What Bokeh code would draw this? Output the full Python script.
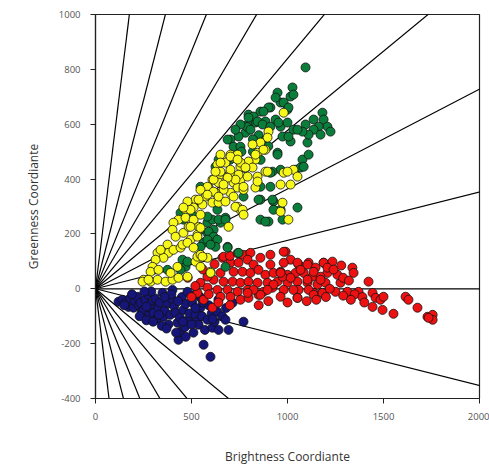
import math
from bokeh.plotting import figure
from bokeh.models import Range1d, ColumnDataSource
from bokeh.embed import file_html
from bokeh.resources import INLINE

# ---- data ----
ray_angles = [80, 70, 60, 50, 40, 30, 20, 10, 0, -10, -30, -40, -50, -60, -70, -80]

x_ticks = [0, 500, 1000, 1500, 2000]
y_ticks = [-400, -200, 0, 200, 400, 600, 800, 1000]

navy_pts = [
    (120,-47),(140,-40),(156,-51),(172,-66),(180,-35),(198,-69),(205,-45),(219,-29),(225,-60),(234,-51),
    (240,-85),(250,-77),(260,-40),(276,-22),(280,-95),(287,-58),(295,-75),(302,-88),(310,-35),(320,-110),
    (328,-69),(335,-50),(349,-15),(354,-102),(360,-80),(375,-51),(380,-130),(390,-95),(401,-4),(401,-40),
    (410,-65),(417,-88),(427,-124),(432,-186),(440,-105),(443,-157),(450,-30),(458,-77),(465,-140),(470,-55),
    (479,-11),(485,-113),(490,-90),(505,-51),(510,-160),(521,-95),(530,-120),(537,-131),(545,-30),(547,-69),
    (555,-100),(563,-204),(570,-150),(583,-113),(590,-60),(599,-248),(605,-90),(609,-142),(620,-120),(635,-84),
    (641,-150),(660,-100),(677,-113),(693,-150),(714,-51),(771,-120),(230,-100),(265,-115),(300,-120),(345,-135),
    (370,-145),(420,-160),(470,-175),(500,-130),(395,-20),(430,-45),(520,-20),(560,-50),(360,-30),(290,-10),
    (255,-10),(190,-20),(640,-40),(680,-70),(330,-95),(455,-120),(520,-70),(610,-110),(150,-60),(265,-65),
]

red_pts = [
    (661,113),(766,124),(807,131),(859,113),(911,88),(990,135),(1016,106),(1058,88),(1110,95),(1146,77),
    (1188,95),(1208,58),(703,95),(745,95),(792,106),(823,88),(719,62),(766,62),(807,58),(849,69),
    (885,51),(927,58),(964,62),(1000,51),(1042,58),(1084,58),(1130,44),(1172,44),(651,58),(615,33),
    (667,26),(714,26),(755,22),(797,26),(844,22),(896,22),(948,26),(1000,22),(1052,26),(1104,22),
    (1156,15),(1198,22),(547,22),(583,4),(635,-4),(688,-4),(740,-11),(792,-4),(875,-11),(922,4),
    (980,-4),(1058,-4),(1136,-15),(1182,-15),(531,-15),(563,-40),(609,-69),(651,-29),(703,-29),(755,-40),
    (797,-33),(849,-22),(964,-29),(1052,-33),(583,44),(667,117),(911,124),(974,44),
    (980,135),(1052,95),(1104,88),(1188,95),(1234,99),(1338,77),(1344,58),(1422,26),(1312,-11),(1370,-11),
    (1443,-15),(1459,-33),(1484,-40),(1500,-29),(1443,-66),(1495,-77),(1552,-91),(1615,-29),(1630,-40),(1677,-69),
    (1729,-102),(1756,-95),(1756,-113),(1735,-106),
    (1031,-4),(1052,-33),(1110,-4),(1136,-22),(1182,-15),(1250,-11),(1276,22),(1260,51),(1172,33),(1104,33),
    (1016,40),(964,58),(927,15),(896,-4),(859,-22),(823,-4),(792,-15),(980,95),(1068,69),(1136,62),(1208,77),
    (1290,40),(1320,30),(1240,70),(1280,85),(1220,0),(1350,-20),(1390,-30),(1400,-50),(1330,-40),(1290,-25),
    (1200,-30),(1150,-40),(1100,-45),(1000,-50),(900,-45),(850,-60),(700,-60),(640,-50),(590,-20),(520,10),
    (480,40),(500,-30),(560,70),(620,90),(700,120),(740,130),
]

green_pts = [
    (797,635),(859,646),(911,661),(964,679),(1000,653),(885,610),(833,606),(792,599),(781,569),(745,555),
    (703,544),(719,518),(755,518),(938,617),(964,591),(1000,606),(1031,580),(974,555),(1016,537),(948,496),
    (1104,533),(1078,471),(1042,434),(964,434),(922,427),(911,372),(859,325),(927,318),(964,288),(1052,296),
    (859,252),(901,245),(677,259),(651,241),(615,215),(583,204),(609,179),(563,168),(688,153),(635,288),
    (641,471),(625,445),(511,263),
    (1094,807),(1026,734),(1016,701),(1031,708),(948,715),(938,697),(980,679),(1005,661),(901,661),(875,646),
    (823,628),(844,610),(790,590),(807,580),(755,599),(729,580),(870,599),(911,591),(953,606),(1136,617),
    (1182,642),(1188,617),(1208,591),(1162,591),(1136,580),(1094,599),(1110,562),(1172,562),(1224,573),(1078,573),
    (1052,580),(1005,555),(948,489),(1110,489),(1068,442),(1084,445),(911,423),(859,372),(849,325),(922,325),
    (927,288),(885,245),(974,252),(771,336),
    (443,277),(458,252),(583,241),(609,252),(641,252),(589,208),(615,190),(583,179),(635,179),(625,153),
    (599,161),(677,252),(688,150),(453,106),(469,80),(375,69),(443,69),(677,80),
    (479,99),(547,153),(745,131),(688,544),(797,624),(547,372),(583,263),
    (850,560),(880,540),(820,545),(900,520),(700,470),(760,500),(820,500),(860,470),(780,440),
]

yellow_pts = [
    (651,416),(609,398),(641,387),(688,409),(719,387),(703,423),(755,398),(740,369),(771,361),(703,350),
    (667,361),(625,350),(589,369),(573,336),(609,314),(641,314),(557,307),(521,325),(511,296),(479,318),
    (469,288),(432,252),(406,241),(401,215),(417,190),(458,204),(485,226),(495,179),(537,226),(531,197),
    (740,299),(755,288),(693,226),(375,161),(349,135),(323,131),(380,131),(406,142),(443,150),(354,113),
    (313,106),(297,80),(287,62),(328,69),(250,33),(287,26),(323,33),(365,26),(401,33),(432,40),
    (479,44),(391,58),(427,80),(521,99),(547,80),(531,117),(583,113),
    (245,26),(276,33),(339,142),(453,161),(547,124),(599,62),
    (980,642),(901,573),(896,551),(859,533),(818,526),(885,507),(844,496),(833,471),(797,464),(818,442),
    (755,445),(719,478),(703,489),(651,489),(677,460),(635,453),(651,427),(703,434),(745,416),(792,409),
    (729,398),(688,405),(667,380),(771,372),(615,398),(583,372),(547,361),(615,354),(641,336),(719,336),
    (677,318),(583,343),(537,325),(729,299),(766,288),(771,270),(885,427),(980,423),(1031,434),(1052,409),
    (1000,427),(964,380),(1016,380),(844,409),(833,369),(844,391),(974,314),(964,281),(1005,252),(495,288),
    (458,296),(469,259),(511,252),(547,270),(495,226),(547,222),(531,190),(479,168),
    (833,489),(875,507),(740,489),(755,460),(781,442),(896,427),
    (703,482),(651,460),(740,471),(625,427),
    (557,117),(599,58),(511,150),
]

series = [
    (navy_pts, "#15157a"),
    (red_pts, "#ee1111"),
    (green_pts, "#0b7d3a"),
    (yellow_pts, "#f7f71a"),
]

# ---- figure ----
p = figure(width=489, height=468, output_backend="svg", toolbar_location=None,
           x_range=Range1d(0, 2000), y_range=Range1d(-400, 1000))
p.min_border_left = 95
p.min_border_right = 10
p.min_border_top = 14
p.min_border_bottom = 70
p.background_fill_color = "white"
p.border_fill_color = "white"
p.outline_line_color = "#222222"
p.outline_line_width = 1.2
p.grid.visible = False

# lines from the origin at the given angles (in data space), clipped by the frame
R = 5000
p.segment(x0=[0] * len(ray_angles), y0=[0] * len(ray_angles),
          x1=[R * math.cos(math.radians(a)) for a in ray_angles],
          y1=[R * math.sin(math.radians(a)) for a in ray_angles],
          line_color="black", line_width=1.2)

for pts, col in series:
    src = ColumnDataSource(dict(x=[a for a, b in pts], y=[b for a, b in pts]))
    p.scatter("x", "y", source=src, size=9, fill_color=col, line_color="#111111",
              line_width=0.8)

for ax, ticks in ((p.xaxis[0], x_ticks), (p.yaxis[0], y_ticks)):
    ax.ticker = ticks
    ax.major_label_overrides = {t: str(t) for t in ticks}
    ax.minor_tick_line_color = None
    ax.major_tick_in = 0
    ax.major_tick_out = 5
    ax.axis_line_color = "#222222"
    ax.axis_line_width = 1.2
    ax.major_tick_line_color = "#222222"
    ax.major_label_text_font = "Open Sans"
    ax.major_label_text_font_size = "9.5px"
    ax.major_label_text_color = "#555555"
    ax.axis_label_text_font = "Open Sans"
    ax.axis_label_text_font_size = "12px"
    ax.axis_label_text_font_style = "normal"
    ax.axis_label_text_color = "#333333"

p.xaxis.axis_label = "Brightness Coordiante"
p.yaxis.axis_label = "Greenness Coordiante"
p.xaxis.major_label_standoff = 9
p.yaxis.major_label_standoff = 10
p.xaxis.axis_label_standoff = 25
p.yaxis.axis_label_standoff = 14

open("out.html", "w").write(file_html(p, INLINE))
